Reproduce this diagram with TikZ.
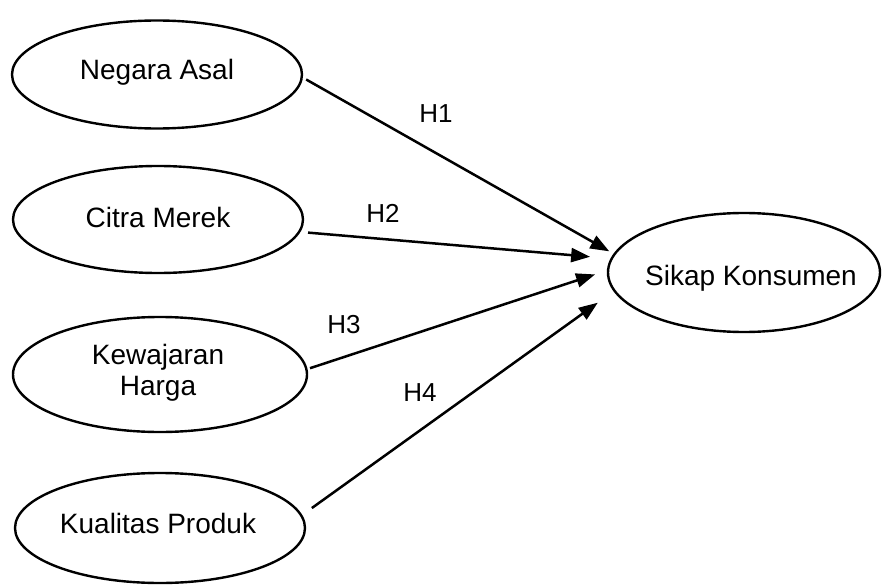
\documentclass[tikz,border=0pt]{standalone}
\usepackage{fontspec}
\setmainfont{Liberation Sans}
\usetikzlibrary{shapes.geometric,arrows.meta}
\begin{document}
\begin{tikzpicture}[x=1pt,y=-1pt,
  var/.style={draw, ellipse, line width=2.4pt, inner sep=0pt, outer sep=0pt, align=center, font=\fontsize{28}{31}\selectfont},
  txt/.style={inner sep=0pt, align=center, font=\fontsize{28}{31}\selectfont},
  hyp/.style={font=\fontsize{26}{30}\selectfont, inner sep=0pt},
  arr/.style={line width=2.5pt, -{Triangle[length=19pt,width=14pt]}}]
\useasboundingbox[fill=white] (0,0) rectangle (884,586);
\node[var, minimum width=290pt, minimum height=108pt] (na) at (157,74.5) {};
\node[txt] (nat) at (157,72) {Negara Asal};
\node[var, minimum width=290pt, minimum height=107pt] (cm) at (158,219.5) {};
\node[txt] (cmt) at (158,217) {Citra Merek};
\node[var, minimum width=294pt, minimum height=115pt] (kh) at (160,374.5) {};
\node[txt] (kht) at (158,373) {Kewajaran\\Harga};
\node[var, minimum width=290pt, minimum height=110pt] (kp) at (160,528) {};
\node[txt] (kpt) at (158,523) {Kualitas Produk};
\node[var, minimum width=272pt, minimum height=119pt] (sk) at (744,272.5) {};
\node[txt] (skt) at (751,278) {Sikap Konsumen};
\draw[arr, shorten <=5pt, shorten >=6pt] (na.-1.2) -- (sk.172.8);
\draw[arr, shorten <=9pt, shorten >=21.7pt] (cm.-5.2) -- (sk.174.1);
\draw[arr, shorten <=3.8pt, shorten >=13.7pt] (kh.2.1) -- (sk.179.3);
\draw[arr, shorten <=13pt, shorten >=20.6pt] (kp.5) -- (sk.188.2);
\node[hyp] (h1) at (436,114) {H1};
\node[hyp] (h2) at (383,213) {H2};
\node[hyp] (h3) at (344,325) {H3};
\node[hyp] (h4) at (420,393) {H4};
\end{tikzpicture}
\end{document}
